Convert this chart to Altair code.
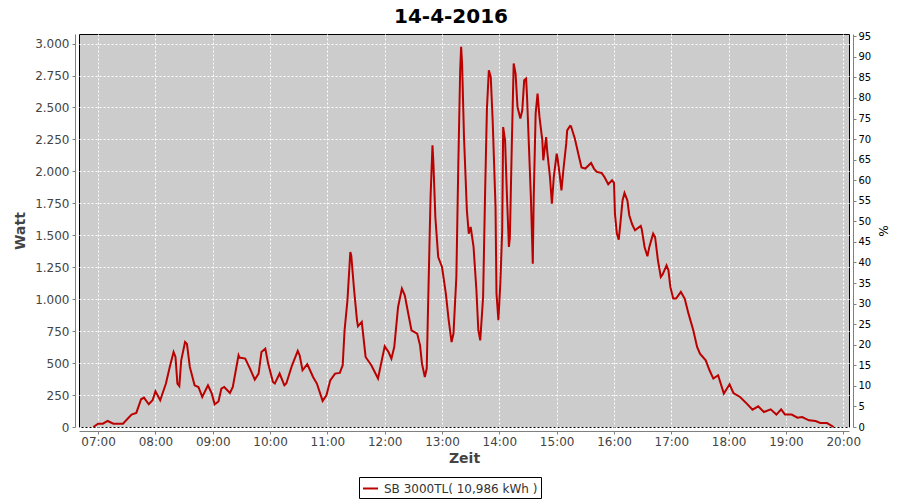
import altair as alt
import pandas as pd

# Time of day (HH:MM) and power (W)
times = [
    "06:55", "07:00", "07:05", "07:10", "07:16", "07:26", "07:35", "07:40", "07:45", "07:48",
    "07:53", "07:57", "08:00", "08:05", "08:11", "08:15", "08:19", "08:21", "08:23", "08:25",
    "08:27", "08:31", "08:33", "08:36", "08:41", "08:45", "08:49", "08:55", "08:59", "09:02",
    "09:06", "09:09", "09:12", "09:18", "09:21", "09:27", "09:28", "09:34", "09:39", "09:44",
    "09:48", "09:51", "09:55", "09:58", "10:03", "10:05", "10:10", "10:15", "10:17", "10:23",
    "10:29", "10:31", "10:34", "10:39", "10:45", "10:49", "10:55", "10:59", "11:03", "11:08",
    "11:13", "11:16", "11:18", "11:21", "11:24", "11:25", "11:28", "11:31", "11:32", "11:36",
    "11:40", "11:46", "11:53", "12:00", "12:04", "12:07", "12:10", "12:14", "12:18", "12:21",
    "12:25", "12:28", "12:34", "12:37", "12:39", "12:42", "12:44", "12:45", "12:47", "12:48",
    "12:50", "12:51", "12:53", "12:56", "13:00", "13:04", "13:07", "13:10", "13:12", "13:15",
    "13:17", "13:19", "13:20", "13:21", "13:23", "13:26", "13:28", "13:30", "13:33", "13:36",
    "13:38", "13:40", "13:43", "13:45", "13:47", "13:49", "13:51", "13:53", "13:56", "13:57",
    "13:59", "14:01", "14:03", "14:04", "14:06", "14:08", "14:10", "14:11", "14:13", "14:15",
    "14:17", "14:19", "14:22", "14:24", "14:26", "14:28", "14:29", "14:31", "14:33", "14:35",
    "14:36", "14:38", "14:40", "14:42", "14:45", "14:46", "14:49", "14:50", "14:53", "14:55",
    "14:57", "15:00", "15:01", "15:03", "15:05", "15:07", "15:10", "15:11", "15:14", "15:15",
    "15:19", "15:23", "15:26", "15:30", "15:36", "15:39", "15:42", "15:47", "15:50", "15:54",
    "15:58", "16:00", "16:01", "16:03", "16:05", "16:07", "16:09", "16:11", "16:14", "16:16",
    "16:19", "16:22", "16:28", "16:29", "16:32", "16:35", "16:37", "16:41", "16:43", "16:46",
    "16:49", "16:51", "16:55", "16:57", "16:59", "17:02", "17:05", "17:10", "17:14", "17:18",
    "17:23", "17:27", "17:30", "17:36", "17:40", "17:44", "17:49", "17:55", "18:01", "18:05",
    "18:12", "18:19", "18:25", "18:31", "18:37", "18:44", "18:50", "18:55", "18:59", "19:06",
    "19:12", "19:17", "19:24", "19:31", "19:36", "19:43", "19:50",
]
watts = [
    0, 26, 26, 47, 26, 26, 97, 110, 217, 230,
    178, 209, 279, 209, 340, 470, 587, 548, 340, 320,
    522, 665, 650, 470, 326, 313, 235, 326, 261, 178,
    200, 300, 313, 266, 313, 561, 543, 535, 457, 371,
    418, 587, 613, 496, 352, 340, 418, 326, 340, 483,
    595, 560, 444, 491, 391, 340, 204, 248, 365, 418,
    423, 483, 757, 991, 1369, 1340, 1070, 835, 788, 822,
    548, 483, 380, 631, 587, 535, 626, 939, 1083, 1030,
    874, 757, 731, 639, 496, 391, 457, 809, 1474, 1800,
    2204, 2061, 1643, 1330, 1252, 1044, 835, 665, 731, 1174,
    2035, 2791, 2974, 2844, 2269, 1696, 1513, 1565, 1409, 1070,
    757, 678, 1017, 1800, 2491, 2791, 2739, 2400, 1722, 1044,
    835, 1122, 1539, 2347, 2243, 1800, 1409, 1480, 2191, 2844,
    2765, 2504, 2413, 2478, 2713, 2726, 2582, 2191, 1800, 1278,
    1800, 2452, 2609, 2426, 2243, 2087, 2269, 2165, 1956, 1748,
    1956, 2139, 2100, 1983, 1852, 2009, 2217, 2321, 2356, 2353,
    2257, 2126, 2030, 2022, 2066, 2022, 1996, 1988, 1956, 1899,
    1930, 1910, 1670, 1513, 1466, 1617, 1774, 1831, 1774, 1657,
    1586, 1539, 1573, 1550, 1409, 1336, 1409, 1513, 1487, 1304,
    1174, 1195, 1265, 1226, 1096, 1005, 1005, 1057, 1005, 887,
    757, 626, 574, 522, 444, 379, 405, 261, 334, 266,
    235, 183, 136, 162, 117, 138, 97, 138, 97, 97,
    73, 78, 52, 47, 31, 31, 0,
]
watt_ticks = list(range(0, 3001, 250))
pct_ticks = list(range(0, 96, 5))
hour_ticks = list(range(7, 21))
series_name = "SB 3000TL( 10,986 kWh )"
chart_title = "14-4-2016"

FONT = "DejaVu Sans"
RED = "#BB0000"

df = pd.DataFrame({
    "t": ["2016-04-14T" + t + ":00" for t in times],
    "watt": watts,
    "series": series_name,
})

x_enc = alt.X(
    "t:T",
    scale=alt.Scale(domain=[
        alt.DateTime(year=2016, month=4, date=14, hours=6, minutes=40),
        alt.DateTime(year=2016, month=4, date=14, hours=20, minutes=6),
    ]),
    axis=alt.Axis(
        values=[alt.DateTime(year=2016, month=4, date=14, hours=h) for h in hour_ticks],
        format="%H:%M", title="Zeit", offset=4,
        labelFont=FONT, labelFontSize=12, labelColor="#444444", labelPadding=2,
        titleFont=FONT, titleFontSize=14, titleFontWeight="bold", titleColor="#444444",
        titlePadding=4, tickSize=3, tickColor="#808080", domainColor="#808080",
        grid=True, gridColor="white", gridDash=[2, 2], gridWidth=1, gridOpacity=1,
    ),
)

line = alt.Chart(df).mark_line(strokeWidth=2).encode(
    x=x_enc,
    y=alt.Y(
        "watt:Q",
        scale=alt.Scale(domain=[0, 3075], nice=False, zero=False),
        axis=alt.Axis(
            values=watt_ticks,
            labelExpr="replace(format(datum.value, ',d'), ',', '.')",
            title="Watt", offset=4,
            labelFont=FONT, labelFontSize=12, labelColor="#444444", labelPadding=3,
            titleFont=FONT, titleFontSize=14, titleFontWeight="bold", titleColor="#444444",
            titlePadding=7, tickSize=3, tickColor="#808080", domainColor="#808080",
            grid=True, gridColor="white", gridDash=[2, 2], gridWidth=1, gridOpacity=1,
        ),
    ),
    color=alt.Color(
        "series:N",
        scale=alt.Scale(domain=[series_name], range=[RED]),
        legend=alt.Legend(
            orient="none", legendX=280, legendY=443, title=None,
            strokeColor="black", fillColor="white", padding=3,
            symbolType="stroke", symbolSize=225, symbolStrokeWidth=2,
            labelFont=FONT, labelFontSize=12, labelColor="#333333", labelOffset=5,
        ),
    ),
)

pct_layer = alt.Chart(df).transform_calculate(
    pct="datum.watt * 95.56 / 3075"
).mark_line(opacity=0).encode(
    x=x_enc,
    y=alt.Y(
        "pct:Q",
        scale=alt.Scale(domain=[0, 95.56], nice=False, zero=False),
        axis=alt.Axis(
            orient="right", values=pct_ticks, title="%", offset=4, grid=False,
            labelFont=FONT, labelFontSize=10, labelColor="black", labelPadding=2,
            titleFont=FONT, titleFontSize=12, titleFontWeight="normal", titleColor="black",
            titlePadding=5, tickSize=3, tickColor="#808080", domainColor="#808080",
        ),
    ),
)

chart = alt.layer(line, pct_layer).resolve_scale(y="independent").properties(
    width=770, height=393,
    padding={"left": 71, "top": 26, "right": 43, "bottom": 72},
    autosize=alt.AutoSizeParams(type="none"),
    title=alt.Title(
        chart_title, font=FONT, fontSize=20, fontWeight="bold", color="black",
        anchor="middle", frame="group", dx=-13, dy=24, offset=12, baseline="alphabetic",
    ),
    background="white",
).configure_view(fill="#CCCCCC", stroke="black", strokeWidth=1)

chart.save("out.html", embed_options={"renderer": "svg", "actions": False})
